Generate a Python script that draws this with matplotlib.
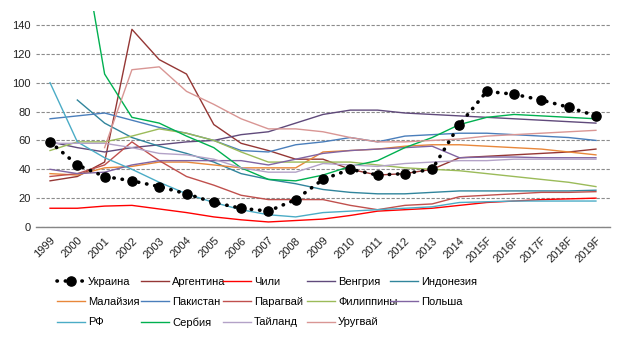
import numpy as np
import matplotlib
matplotlib.use("Agg")
import matplotlib.pyplot as plt

plt.rcParams['font.family'] = ['Liberation Sans', 'DejaVu Sans']

nan = np.nan

years = ['1999', '2000', '2001', '2002', '2003', '2004', '2005', '2006', '2007',
         '2008', '2009', '2010', '2011', '2012', '2013', '2014',
         '2015F', '2016F', '2017F', '2018F', '2019F']

ukraine = [59, 43, 35, 32, 28, 23, 17, 13, 11, 19, 33, 40, 36, 37, 40, 71, 94, 92, 88, 83, 77]
argentina = [32, 35, 45, 137, 116, 106, 71, 58, 53, 47, 47, 40, 36, 37, 40, 48, 49, 50, 51, 52, 54]
chile = [13, 13, 14.5, 15, 12.5, 10, 7, 5, 3.5, 4.5, 5.5, 8, 11, 12, 13, 15, 17, 18, 19, 19.5, 20]
hungary = [59, 55, 52, 55, 57, 59, 60, 64, 66, 72, 78, 81, 81, 79, 78, 77, 76, 75, 74, 73, 72]
indonesia = [nan, 88, 72, 62, 56, 51, 45, 37, 33, 30, 26, 24, 23, 23, 24, 25, 25, 25, 25, 25, 25.5]
malaysia = [37, 36, 41, 42, 45, 45, 43, 41, 41, 41, 52, 53, 54, 56, 57, 57, 56, 55, 54, 52, 50]
pakistan = [75, 77, 79, 74, 69, 65, 60, 53, 52, 57, 59, 62, 59, 63, 64, 65, 65, 64, 63, 62, 60]
paraguay = [35, 37, 43, 59, 46, 35, 29, 22, 19, 19, 19, 15, 12, 15, 16, 21, 22, 23, 24, 24, 24.5]
philippines = [53, 59, 59, 63, 68, 65, 60, 52, 45, 45, 45, 45, 43, 41, 40, 39, 37, 35, 33, 31, 28]
poland = [40, 37, 38, 43, 46, 46, 46, 46, 43, 47, 51, 53, 54, 55, 56, 48, 48.5, 48.5, 48, 48, 48]
rf = [100, 59, 48, 40, 31, 23, 17, 12, 8.5, 7, 10, 11, 12, 13, 14, 17, 17.5, 18, 18, 18, 18]
serbia = [nan, 216, 106, 76, 72, 63, 55, 41, 33, 32, 36, 42, 46, 55, 62, 71, 76, 78, 77, 76, 75]
thailand = [58, 58, 58, 55, 51, 50, 47, 41, 38, 38, 44, 43, 42, 44, 45, 46, 46, 47, 47, 47, 47]
uruguay = [nan, nan, 55, 109, 111, 94, 85, 75, 68, 68, 66, 62, 59, 59, 60, 61, 63, 64, 65, 66, 67]

others = [
    ('Аргентина', argentina, '#953735'),
    ('Чили', chile, '#FF0000'),
    ('Венгрия', hungary, '#604A7B'),
    ('Индонезия', indonesia, '#31859C'),
    ('Малайзия', malaysia, '#E8873A'),
    ('Пакистан', pakistan, '#4A7EBB'),
    ('Парагвай', paraguay, '#C0504D'),
    ('Филиппины', philippines, '#9BBB59'),
    ('Польша', poland, '#8064A2'),
    ('РФ', rf, '#4BACC6'),
    ('Сербия', serbia, '#00B050'),
    ('Тайланд', thailand, '#B3A2C7'),
    ('Уругвай', uruguay, '#D99694'),
]

fig = plt.figure(figsize=(6.24, 3.46), dpi=100)
ax = fig.add_axes([0.0583, 0.3439, 0.9186, 0.6256])
x = np.arange(len(years))

handles = []
for name, vals, col in others:
    ln, = ax.plot(x, vals, color=col, lw=1.0, label=name)
    handles.append(ln)

ua, = ax.plot(x, ukraine, color='black', lw=2.6, linestyle=(0, (0.1, 2.2)),
              dash_capstyle='round', marker='o', markersize=6.6,
              label='Украина', zorder=5)
handles.insert(0, ua)

ax.set_xlim(-0.5, len(years) - 0.5)
ax.set_ylim(0, 150)
ax.set_yticks(range(0, 141, 20))
ax.set_xticks(x)
ax.set_xticklabels(years, rotation=45, ha='right', rotation_mode='anchor')
ax.tick_params(length=0, labelsize=8, colors='#222222', pad=4)
ax.tick_params(axis='x', pad=6)

ax.grid(axis='y', color='#8c8c8c', lw=0.8, linestyle=(0, (3, 1.5)))
ax.set_axisbelow(True)
for s in ['top', 'right', 'left']:
    ax.spines[s].set_visible(False)
ax.spines['bottom'].set_color('#868686')
ax.spines['bottom'].set_linewidth(1.0)

# legend laid out as five equal-width columns
col_x = [57, 141, 223, 307, 390]
for c in range(5):
    hs = handles[c::5]
    fig.legend(handles=hs, labels=[h.get_label() for h in hs],
               loc='upper left', bbox_to_anchor=(col_x[c] / 624, (346 - 277) / 346),
               frameon=False, fontsize=8, handlelength=2.5, handletextpad=0.3,
               labelspacing=0.92, borderpad=0, borderaxespad=0)

fig.savefig('out.png', dpi=100)
